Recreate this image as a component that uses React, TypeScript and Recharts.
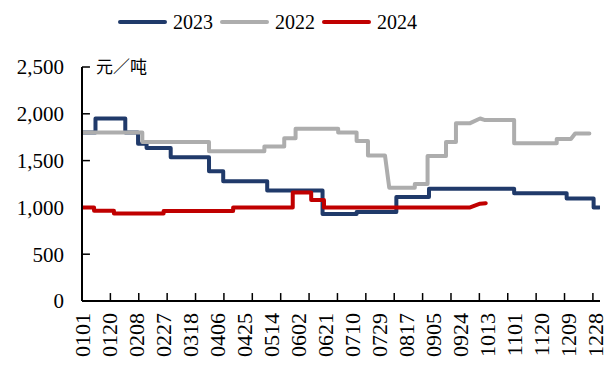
import React from 'react';
import { LineChart, Line, XAxis, YAxis, Legend, ReferenceLine } from 'recharts';

const SERIF = '"Liberation Serif", "Times New Roman", serif';
const CJK = '"Noto Sans CJK SC", sans-serif';

// x-axis category labels (every 19th day of the year)
const dateLabels = ['0101', '0120', '0208', '0227', '0318', '0406', '0425', '0514', '0602', '0621', '0710', '0729', '0817', '0905', '0924', '1013', '1101', '1120', '1209', '1228'];
const labelDays = [0, 19, 38, 57, 76, 95, 114, 133, 152, 171, 190, 209, 228, 247, 266, 285, 304, 323, 342, 361];
// tick marks every 20 categories (category boundaries)
const tickMarkDays = [19.5, 39.5, 59.5, 79.5, 99.5, 119.5, 139.5, 159.5, 179.5, 199.5, 219.5, 239.5, 259.5, 279.5, 299.5, 319.5, 339.5, 359.5];
const yTicks = [0, 500, 1000, 1500, 2000, 2500];
const legendOrder = ['2023', '2022', '2024'];

// 2023 (day of year, yuan/ton)
const days2023 = [0, 9, 9, 30, 30, 39, 39, 45, 45, 62, 62, 89, 89, 99, 99, 130, 130, 169, 169, 193, 193, 221, 221, 244, 244, 304, 304, 341, 341, 360, 360, 364];
const values2023 = [1800, 1800, 1950, 1950, 1800, 1800, 1680, 1680, 1635, 1635, 1535, 1535, 1385, 1385, 1280, 1280, 1180, 1180, 930, 930, 950, 950, 1110, 1110, 1200, 1200, 1150, 1150, 1095, 1095, 1000, 1000];

// 2022
const days2022 = [0, 42, 42, 89, 89, 128, 128, 142, 142, 150, 150, 180, 180, 193, 193, 201, 201, 213, 216, 234, 234, 243, 243, 256, 256, 263, 263, 273, 280, 283, 304, 304, 334, 334, 344, 347, 357];
const values2022 = [1800, 1800, 1700, 1700, 1600, 1600, 1650, 1650, 1740, 1740, 1840, 1840, 1800, 1800, 1710, 1710, 1555, 1555, 1210, 1210, 1250, 1250, 1550, 1550, 1700, 1700, 1900, 1900, 1950, 1935, 1935, 1685, 1685, 1730, 1730, 1790, 1790];

// 2024
const days2024 = [0, 8, 8, 22, 22, 57, 57, 106, 106, 148, 148, 161, 161, 170, 170, 273, 280, 284];
const values2024 = [1000, 1000, 965, 965, 935, 935, 962, 962, 1000, 1000, 1160, 1160, 1080, 1080, 1000, 1000, 1040, 1045];

const toPoints = (days: number[], values: number[]) => days.map((d, i) => ({ day: d, value: values[i] }));

const data2023 = toPoints(days2023, values2023);
const data2022 = toPoints(days2022, values2022);
const data2024 = toPoints(days2024, values2024);

const fmt = (v: number) => v.toLocaleString('en-US');

// inward tick mark length, in data units (≈8px)
const X_MARK_LEN = 85;
const Y_MARK_LEN = 5.6;

const XTick = (props: any) => {
  const { x, y, payload } = props;
  const idx = labelDays.indexOf(payload.value);
  const label = idx >= 0 ? dateLabels[idx] : '';
  return (
    <text
      x={x}
      y={y}
      transform={`rotate(-90, ${x}, ${y})`}
      textAnchor="end"
      dy="0.35em"
      fontFamily={SERIF}
      fontSize={22}
      fill="#000"
    >
      {label}
    </text>
  );
};

const YTick = (props: any) => {
  const { x, y, payload } = props;
  return (
    <text x={x} y={y} textAnchor="end" dy="0.35em" fontFamily={SERIF} fontSize={21} fill="#000">
      {fmt(payload.value)}
    </text>
  );
};

const renderLegend = (props: any) => {
  const items = [...(props.payload || [])].sort(
    (a: any, b: any) => legendOrder.indexOf(String(a.value)) - legendOrder.indexOf(String(b.value))
  );
  return (
    <div
      style={{
        display: 'flex',
        alignItems: 'center',
        paddingLeft: 118,
        height: 30,
        fontFamily: SERIF,
        fontSize: 20,
        color: '#000',
      }}
    >
      {items.map((p: any, i: number) => (
        <div key={i} style={{ display: 'flex', alignItems: 'center', marginRight: 7 }}>
          <span
            style={{
              display: 'inline-block',
              width: 49,
              height: 4,
              borderRadius: 2,
              background: p.color,
              marginRight: 6,
            }}
          />
          <span>{p.value}</span>
        </div>
      ))}
    </div>
  );
};

const unitLabel = (props: any) => {
  const vb = props.viewBox || { x: 0, y: 67, width: 82 };
  return (
    <text x={vb.x + vb.width + 14} y={vb.y + 6} fontFamily={CJK} fontSize={17} fill="#000">
      元／吨
    </text>
  );
};

export default function App() {
  return (
    <div style={{ position: 'absolute', left: 0, top: 0, width: 608, height: 365, background: '#fff' }}>
      <LineChart width={608} height={365} margin={{ top: 67, right: 8, left: 0, bottom: 0 }}>
        <XAxis
          xAxisId="main"
          type="number"
          dataKey="day"
          domain={[-0.5, 364.5]}
          ticks={labelDays}
          interval={0}
          allowDataOverflow
          tickLine={false}
          tickSize={0}
          tickMargin={12}
          axisLine={{ stroke: '#000', strokeWidth: 2 }}
          height={64}
          tick={<XTick />}
        />
        <YAxis
          yAxisId="v"
          type="number"
          domain={[0, 2500]}
          ticks={yTicks}
          interval={0}
          tickLine={false}
          tickSize={0}
          tickMargin={18}
          axisLine={{ stroke: '#000', strokeWidth: 2 }}
          width={82}
          tick={<YTick />}
          label={unitLabel}
        />
        {tickMarkDays.map((d) => (
          <ReferenceLine
            key={`xm${d}`}
            xAxisId="main"
            yAxisId="v"
            segment={[
              { x: d, y: 0 },
              { x: d, y: X_MARK_LEN },
            ]}
            stroke="#000"
            strokeWidth={1.5}
          />
        ))}
        {yTicks.slice(1).map((v) => (
          <ReferenceLine
            key={`ym${v}`}
            xAxisId="main"
            yAxisId="v"
            segment={[
              { x: -0.5, y: v },
              { x: -0.5 + Y_MARK_LEN, y: v },
            ]}
            stroke="#000"
            strokeWidth={1.5}
          />
        ))}
        <Legend
          verticalAlign="middle"
          align="center"
          layout="horizontal"
          wrapperStyle={{ top: 7, left: 0, width: 608 }}
          content={renderLegend}
        />
        <Line
          name="2023"
          data={data2023}
          dataKey="value"
          xAxisId="main"
          yAxisId="v"
          type="linear"
          stroke="#203A6A"
          strokeWidth={4}
          strokeLinejoin="round"
          strokeLinecap="round"
          dot={false}
          activeDot={false}
          isAnimationActive={false}
        />
        <Line
          name="2022"
          data={data2022}
          dataKey="value"
          xAxisId="main"
          yAxisId="v"
          type="linear"
          stroke="#ADADAD"
          strokeWidth={4}
          strokeLinejoin="round"
          strokeLinecap="round"
          dot={false}
          activeDot={false}
          isAnimationActive={false}
        />
        <Line
          name="2024"
          data={data2024}
          dataKey="value"
          xAxisId="main"
          yAxisId="v"
          type="linear"
          stroke="#C00000"
          strokeWidth={4}
          strokeLinejoin="round"
          strokeLinecap="round"
          dot={false}
          activeDot={false}
          isAnimationActive={false}
        />
      </LineChart>
    </div>
  );
}
